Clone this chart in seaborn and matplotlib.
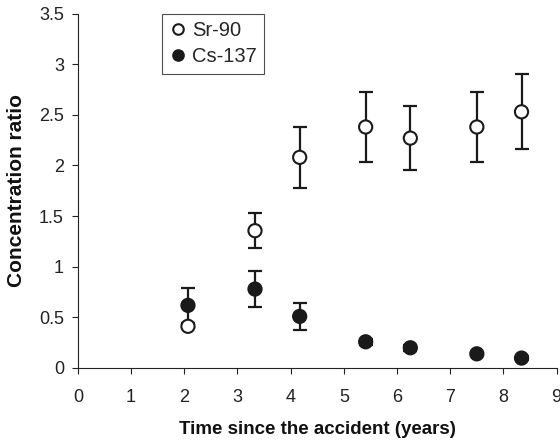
import matplotlib
matplotlib.use("Agg")
import matplotlib.pyplot as plt
import seaborn as sns
import pandas as pd

years = [2.07, 3.33, 4.17, 5.41, 6.25, 7.50, 8.34]
sr90 = [0.41, 1.355, 2.08, 2.38, 2.27, 2.38, 2.53]
sr90_err = [0.0, 0.17, 0.30, 0.35, 0.32, 0.35, 0.37]
cs137 = [0.617, 0.778, 0.508, 0.257, 0.198, 0.138, 0.096]
cs137_err = [0.17, 0.18, 0.13, 0.03, 0.03, 0.02, 0.02]

df = pd.DataFrame({
    "t": years * 2,
    "v": sr90 + cs137,
    "iso": ["Sr-90"] * len(years) + ["Cs-137"] * len(years),
})

sns.set_style("ticks")
plt.rcParams["font.family"] = ["Liberation Sans", "DejaVu Sans"]

fig = plt.figure(figsize=(5.6, 4.41), dpi=100)
ax = fig.add_axes([0.139, 0.166, 0.855, 0.803])

ax.errorbar(years, cs137, yerr=cs137_err, fmt="none", ecolor="#1a1a1a",
            elinewidth=1.6, capsize=5, capthick=1.6, zorder=1)
ax.errorbar(years, sr90, yerr=sr90_err, fmt="none", ecolor="#1a1a1a",
            elinewidth=1.6, capsize=5, capthick=1.6, zorder=1)

sns.scatterplot(data=df, x="t", y="v", hue="iso", style="iso",
                palette={"Sr-90": "white", "Cs-137": "#1a1a1a"},
                markers={"Sr-90": "o", "Cs-137": "o"},
                s=90, edgecolor="#1a1a1a", linewidth=1.5, ax=ax, zorder=3)

ax.set_xlim(0, 9)
ax.set_ylim(0, 3.5)
ax.set_xticks(range(0, 10))
ax.set_xticklabels([str(i) for i in range(0, 10)])
ax.set_yticks([0, 0.5, 1, 1.5, 2, 2.5, 3, 3.5])
ax.set_yticklabels(["0", "0.5", "1", "1.5", "2", "2.5", "3", "3.5"])
ax.tick_params(axis="both", labelsize=13, colors="#222222", length=4, width=0.8,
               direction="out")
ax.tick_params(axis="x", pad=11)
ax.tick_params(axis="y", pad=6)
for s in ["left", "bottom"]:
    ax.spines[s].set_linewidth(0.8)
    ax.spines[s].set_color("#222222")
sns.despine(ax=ax)

ax.set_xlabel("Time since the accident (years)", fontsize=13.5, fontweight="bold",
              labelpad=11, color="#111111")
ax.set_ylabel("Concentration ratio", fontsize=15, fontweight="bold", labelpad=9,
              color="#111111")

handles, labels = ax.get_legend_handles_labels()
leg = ax.legend(handles, labels, loc="upper left", bbox_to_anchor=(0.175, 0.998),
                frameon=True, fancybox=False, edgecolor="#222222",
                fontsize=14.5, markerscale=0.8, handletextpad=0.25,
                borderpad=0.35, labelspacing=0.35, handlelength=0.9,
                borderaxespad=0)
leg.get_frame().set_linewidth(0.8)

fig.savefig("out.png", dpi=100)
